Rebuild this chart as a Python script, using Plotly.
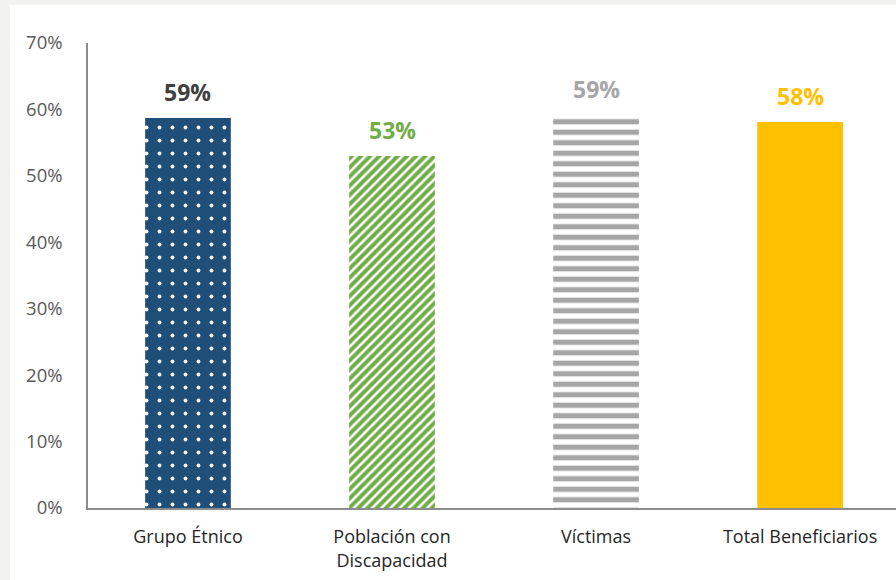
import plotly.graph_objects as go

categories = ["Grupo Étnico", "Población con<br>Discapacidad", "Víctimas", "Total Beneficiarios"]
values = [0.587, 0.530, 0.592, 0.581]
labels = ["59%", "53%", "59%", "58%"]
bar_colors = ["#1f4e79", "#70ad47", "#a6a6a6", "#ffc000"]
label_colors = ["#404040", "#70ad47", "#a6a6a6", "#ffc000"]
y_ticks = [0, 0.1, 0.2, 0.3, 0.4, 0.5, 0.6, 0.7]
y_tick_text = ["0%", "10%", "20%", "30%", "40%", "50%", "60%", "70%"]

FONT = "Open Sans"

fig = go.Figure()

patterns = [
    dict(shape=".", fgcolor="#ffffff", bgcolor="#1f4e79", size=13, solidity=0.07, fillmode="replace"),
    dict(shape="/", fgcolor="#70ad47", bgcolor="#ffffff", size=6.5, solidity=0.62, fillmode="replace"),
    dict(shape="-", fgcolor="#a6a6a6", bgcolor="#ffffff", size=10.5, solidity=0.5, fillmode="replace"),
    dict(shape="", fgcolor="#ffc000", bgcolor="#ffc000"),
]

for i, (c, v) in enumerate(zip(categories, values)):
    fig.add_trace(go.Bar(
        x=[c], y=[v],
        marker=dict(color=bar_colors[i], pattern=patterns[i], line=dict(width=0)),
        width=0.42,
        showlegend=False,
        hoverinfo="skip",
    ))
    fig.add_annotation(
        x=c, y=v, text="<b>%s</b>" % labels[i], showarrow=False,
        yshift=26, font=dict(family=FONT, size=23, color=label_colors[i]),
    )

# white panel over textured border
fig.add_shape(type="rect", xref="paper", yref="paper",
              x0=-0.0965, x1=1.1, y0=-0.2, y1=1.0817,
              fillcolor="#ffffff", line=dict(width=0), layer="below")

fig.update_layout(
    width=896, height=580,
    margin=dict(l=88, r=0, t=43, b=72),
    paper_bgcolor="#f2f2f1",
    plot_bgcolor="rgba(0,0,0,0)",
    barmode="overlay",
    font=dict(family=FONT, size=15, color="#595959"),
    xaxis=dict(
        type="category", categoryorder="array", categoryarray=categories,
        range=[-0.49, 3.47],
        showline=True, linecolor="#8c8c8c", linewidth=1.5,
        ticks="", showgrid=False, zeroline=False,
        tickfont=dict(family=FONT, size=18, color="#262626"),
        ticklabelstandoff=12,
    ),
    yaxis=dict(
        range=[0, 0.7], tickvals=y_ticks, ticktext=y_tick_text,
        showline=True, linecolor="#8c8c8c", linewidth=1.5,
        ticks="", showgrid=False, zeroline=False,
        tickfont=dict(family=FONT, size=18.5, color="#595959"),
        ticklabelstandoff=20,
    ),
)

fig.write_html(
    "out.html",
    config={"displayModeBar": False},
    post_script="document.body.style.margin='0';document.body.style.overflow='hidden';",
)
